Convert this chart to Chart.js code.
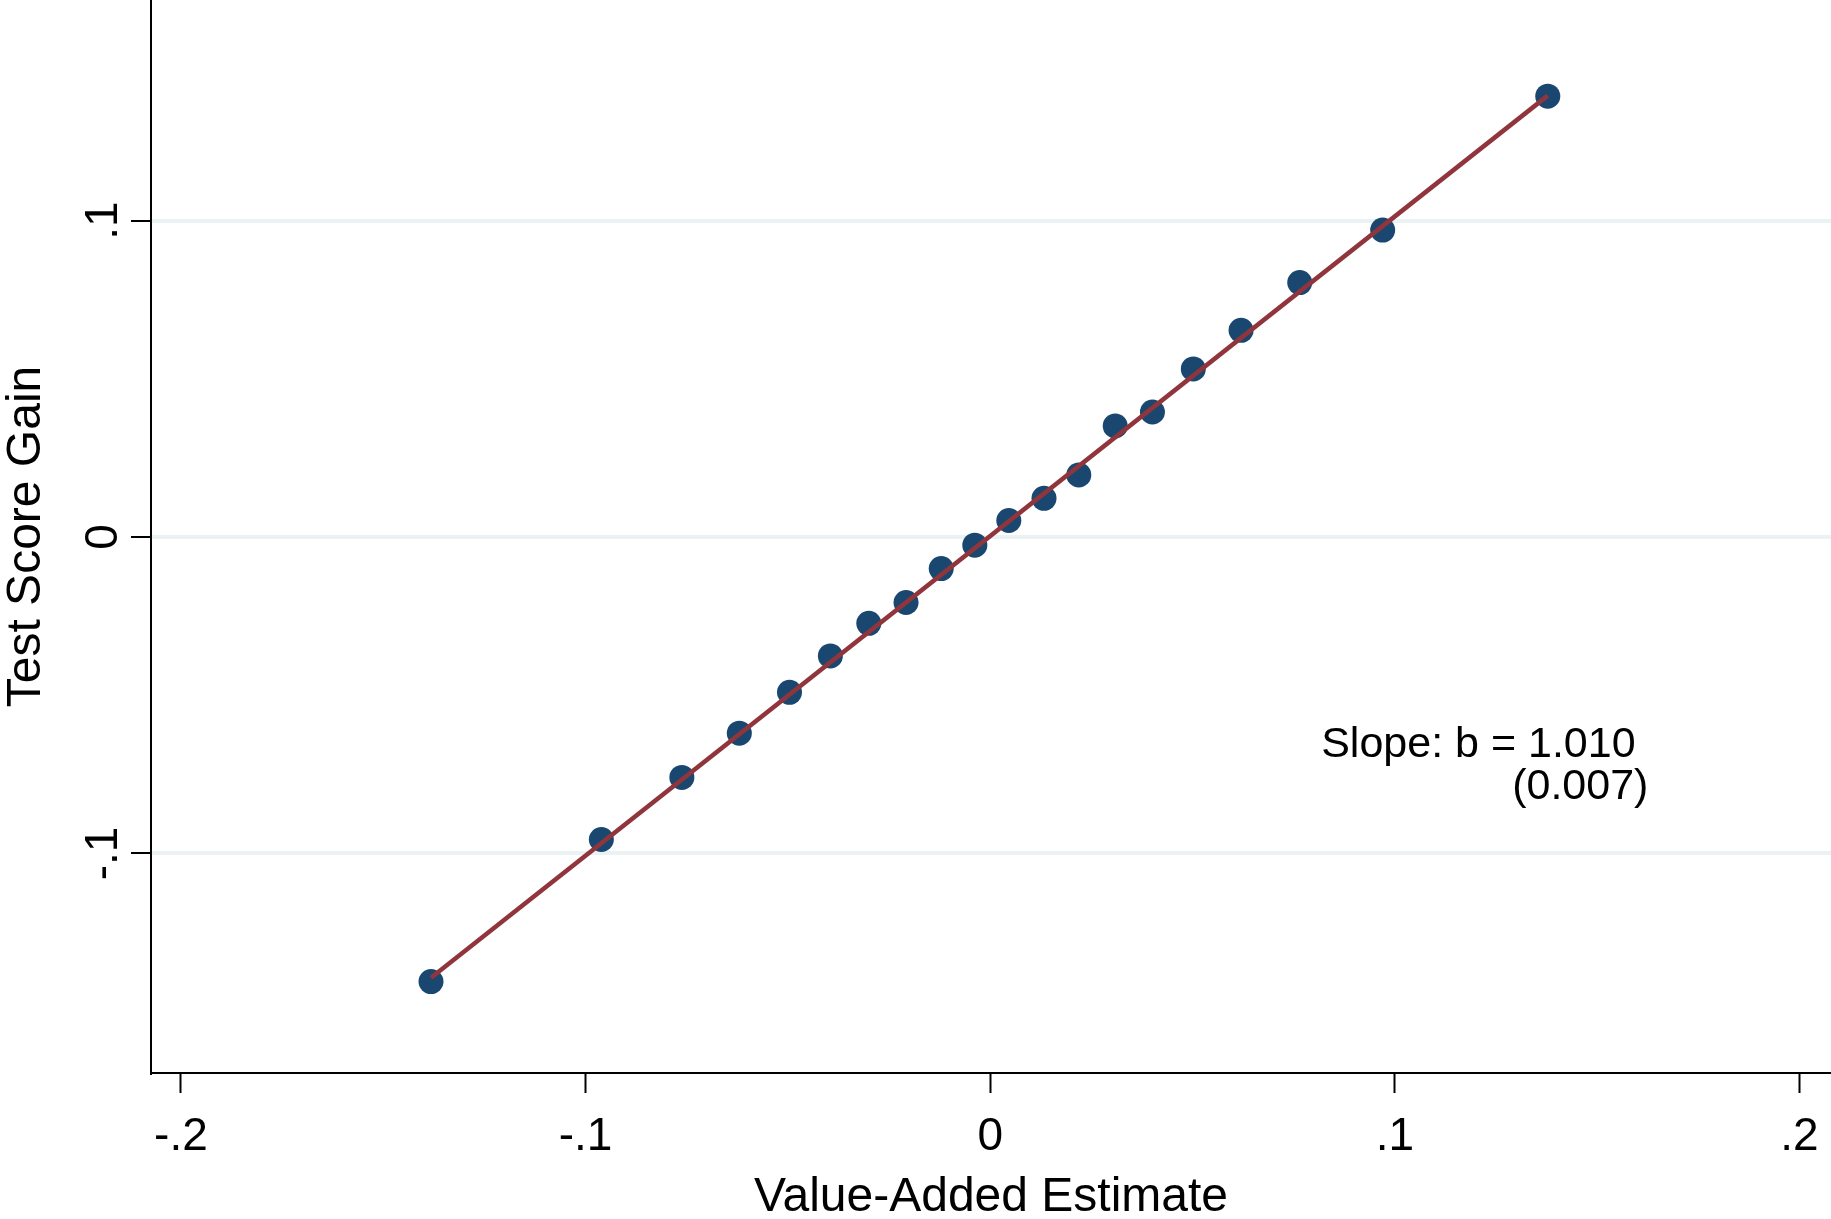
<!DOCTYPE html>
<html>
<head>
<meta charset="utf-8">
<title>Test Score Gain vs Value-Added Estimate</title>
<script src="https://cdn.jsdelivr.net/npm/chart.js@4.4.0/dist/chart.umd.min.js"></script>
<style>
  body { margin: 0; background: #fff; }
  canvas { display: block; }
</style>
</head>
<body>
<canvas id="chart1" width="1831" height="1219"></canvas>
<script>
// binned scatter: mean test score gain per value-added bin
const valueAdded = [-0.1382, -0.0961, -0.0762, -0.0620, -0.0496, -0.0395, -0.0300, -0.0208, -0.0121, -0.0038,
                    0.0046, 0.0133, 0.0219, 0.0309, 0.0401, 0.0502, 0.0620, 0.0765, 0.0970, 0.1378];
const scoreGain = [-0.1405, -0.0956, -0.0760, -0.0620, -0.0491, -0.0376, -0.0273, -0.0207, -0.0100, -0.0026,
                   0.0052, 0.0122, 0.0196, 0.0351, 0.0395, 0.0531, 0.0653, 0.0804, 0.0970, 0.1393];

// linear fit
const slope = 1.010;
const slopeSE = 0.007;
const intercept = 0.0003;

const xTicks = [-0.2, -0.1, 0, 0.1, 0.2];
const xTickLabels = ["-.2", "-.1", "0", ".1", ".2"];
const yTicks = [-0.1, 0, 0.1];
const yTickLabels = ["-.1", "0", ".1"];

const fontFamily = '"Liberation Sans", Arial, Helvetica, sans-serif';

const points = valueAdded.map((x, i) => ({ x: x, y: scoreGain[i] }));
const xFirst = valueAdded[0];
const xLast = valueAdded[valueAdded.length - 1];
const fitLine = [
    { x: xFirst, y: intercept + slope * xFirst },
    { x: xLast, y: intercept + slope * xLast }
];

// y tick labels are rotated (read bottom to top), plus the slope note
const extraText = {
    id: "extraText",
    afterDraw(chart) {
        const ctx = chart.ctx;
        const xs = chart.scales.x;
        const ys = chart.scales.y;
        ctx.save();
        ctx.fillStyle = "#000";
        ctx.font = "46px " + fontFamily;
        ctx.textAlign = "center";
        ctx.textBaseline = "alphabetic";
        yTicks.forEach((v, i) => {
            ctx.save();
            ctx.translate(ys.right - 34, ys.getPixelForValue(v));
            ctx.rotate(-Math.PI / 2);
            ctx.fillText(yTickLabels[i], 0, 0);
            ctx.restore();
        });

        ctx.font = "43px " + fontFamily;
        ctx.textAlign = "left";
        ctx.fillText("Slope: b = " + slope.toFixed(3), xs.getPixelForValue(0.0818), ys.getPixelForValue(-0.0694));
        ctx.fillText("(" + slopeSE.toFixed(3) + ")", xs.getPixelForValue(0.1290), ys.getPixelForValue(-0.0828));
        ctx.restore();
    }
};

var ctx1 = document.getElementById("chart1").getContext("2d");
var chart1 = new Chart(ctx1, {
    type: "scatter",
    data: {
        datasets: [{
            label: "Fit",
            data: fitLine,
            showLine: true,
            borderColor: "#90353b",
            borderWidth: 4.5,
            pointRadius: 0,
            fill: false,
            order: 0
        }, {
            label: "Test Score Gain",
            data: points,
            backgroundColor: "#1a476f",
            borderWidth: 0,
            pointRadius: 12.5,
            pointHoverRadius: 12.5,
            order: 1
        }]
    },
    options: {
        responsive: false,
        animation: false,
        devicePixelRatio: 1,
        layout: { padding: 0, autoPadding: false },
        plugins: {
            legend: { display: false },
            tooltip: { enabled: false }
        },
        scales: {
            x: {
                type: "linear",
                position: "bottom",
                min: -0.2074,
                max: 0.2078,
                afterBuildTicks: s => { s.ticks = xTicks.map(v => ({ value: v })); },
                afterFit: s => {
                    s.height = 146;
                    s.paddingLeft = 0;
                    s.paddingRight = 0;
                },
                ticks: {
                    callback: (v, i) => xTickLabels[i],
                    color: "#000",
                    font: { size: 46, family: fontFamily },
                    padding: 17,
                    maxRotation: 0,
                    autoSkip: false
                },
                grid: {
                    drawOnChartArea: false,
                    drawTicks: true,
                    tickLength: 20,
                    tickColor: "#000",
                    tickWidth: 2
                },
                border: { display: true, color: "#000", width: 2 },
                title: {
                    display: true,
                    text: "Value-Added Estimate",
                    color: "#000",
                    font: { size: 48, family: fontFamily, lineHeight: 0.9 },
                    padding: 0
                }
            },
            y: {
                type: "linear",
                position: "left",
                min: -0.1694,
                max: 0.1697,
                afterBuildTicks: s => { s.ticks = yTicks.map(v => ({ value: v })); },
                afterFit: s => { s.width = 151; },
                ticks: { display: false },
                grid: {
                    color: "#eaf2f3",
                    lineWidth: 4,
                    drawTicks: true,
                    tickLength: 20,
                    tickColor: "#000",
                    tickWidth: 2
                },
                border: { display: true, color: "#000", width: 2 },
                title: {
                    display: true,
                    text: "Test Score Gain",
                    color: "#000",
                    font: { size: 48, family: fontFamily, lineHeight: 1 },
                    padding: { top: 3, bottom: 0 }
                }
            }
        }
    },
    plugins: [extraText]
});
</script>
</body>
</html>
